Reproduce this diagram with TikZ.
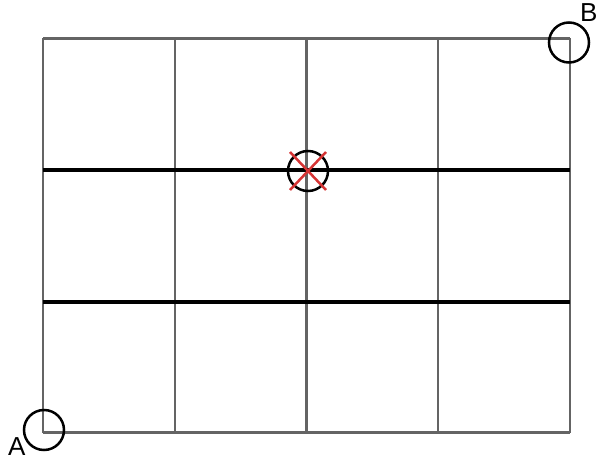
\documentclass[tikz,border=0pt]{standalone}
\usepackage{fontspec}
\setmainfont{Liberation Sans}
\usepackage{xcolor}
\usepackage{tikz}
\usetikzlibrary{calc}
\definecolor{gridgray}{RGB}{100,100,100}
\definecolor{crossred}{RGB}{214,52,52}

\begin{document}
\begin{tikzpicture}[x=1pt,y=-1pt,
  gridline/.style={gridgray,line width=2.4pt},
  barline/.style={black,line width=4pt},
  ringmark/.style={circle,draw=black,line width=2.5pt,minimum size=40pt,inner sep=0pt},
  crossline/.style={crossred,line width=2.5pt},
  cornerlabel/.style={anchor=base west,inner sep=0pt,font=\fontsize{26}{26}\selectfont}]
  \useasboundingbox (0,0) rectangle (598,460);
  % grid
  \foreach \gx in {43,174.75,306.5,438.25,570}
    \draw[gridline] (\gx,38.5) -- (\gx,432.5);
  \draw[gridline] (43,38.5) -- (570,38.5);
  \draw[gridline] (43,432.5) -- (570,432.5);
  \foreach \gy in {170,301.5}
    \draw[barline] (43,\gy) -- (570,\gy);
  % marks
  \node[ringmark] (pA) at (44,430) {};
  \node[ringmark] (pB) at (569,42.5) {};
  \node[ringmark] (pC) at (308,171) {};
  \draw[crossline] ($(pC)+(-18,-19)$) -- ($(pC)+(18,19)$);
  \draw[crossline] ($(pC)+(18,-19)$) -- ($(pC)+(-18,19)$);
  \node[cornerlabel] (lA) at (8,455) {A};
  \node[cornerlabel] (lB) at (580,22) {B};
\end{tikzpicture}
\end{document}
